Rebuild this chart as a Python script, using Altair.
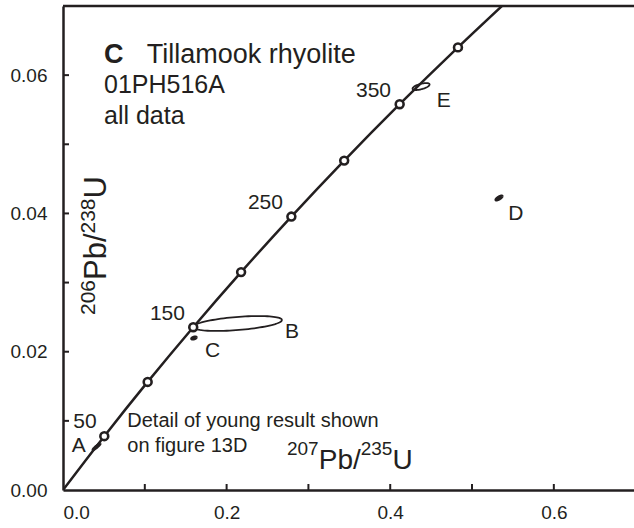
import altair as alt
import pandas as pd
import numpy as np

INK = "#231f20"
FONT = "Liberation Sans"

# Concordia curve: age (Ma), 207Pb/235U, 206Pb/238U
conc_age = [0, 50, 100, 150, 200, 250, 300, 350, 400, 440]
conc_x = [0.0, 0.05048, 0.10350, 0.15920, 0.21771, 0.27917, 0.34373, 0.41155, 0.48281, 0.54239]
conc_y = [0.0, 0.007786, 0.015633, 0.023542, 0.031511, 0.039543, 0.047638, 0.055795, 0.064016, 0.070638]
marker_ages = [50, 100, 150, 200, 250, 300, 350, 400]

# Analyses (error ellipses): centre, half-widths, error correlation
ell_id = ["A", "B", "C", "D", "E"]
ell_cx = [0.0410, 0.2133, 0.1601, 0.5330, 0.4377]
ell_cy = [0.00625, 0.02408, 0.02198, 0.04223, 0.05835]
ell_sx = [0.0045, 0.0544, 0.0030, 0.0040, 0.0104]
ell_sy = [0.00045, 0.00108, 0.00018, 0.00032, 0.00050]
ell_rho = [0.95, 0.47, 0.5, 0.8, 0.6]
small_ids = ["A", "C", "D"]

# Labels
age_text = ["50", "150", "250", "350"]
age_lx = [0.0411, 0.1491, 0.2689, 0.4010]
age_ly = [0.00892, 0.02458, 0.04064, 0.05688]

let_text = ["A", "B", "C", "D", "E"]
let_lx = [0.0106, 0.2714, 0.1736, 0.5444, 0.4568]
let_ly = [0.00554, 0.02194, 0.01928, 0.03905, 0.05543]

note_text = ["Detail of young result shown", "on figure 13D"]
note_lx = [0.0786, 0.0786]
note_ly = [0.00915, 0.00554]

title_bold = ["C"]
title_bx = [0.0501]
title_by = [0.06179]
title_text = ["Tillamook rhyolite"]
title_tx = [0.1023]
title_ty = [0.06179]
sub_text = ["01PH516A", "all data"]
sub_x = [0.0501, 0.0501]
sub_y = [0.05737, 0.05293]

# x-axis title pieces: 207Pb/235U
xt_big = ["Pb/", "U"]
xt_big_x = [0.3126, 0.4027]
xt_big_y = [0.00299, 0.00299]
xt_sup = ["207", "235"]
xt_sup_x = [0.2738, 0.3639]
xt_sup_y = [0.00506, 0.00506]

# y-axis title pieces: 206Pb/238U (rotated)
yt_big = ["Pb/", "U"]
yt_big_x = [0.0526, 0.0526]
yt_big_y = [0.03037, 0.04215]
yt_sup = ["206", "238"]
yt_sup_x = [0.0391, 0.0391]
yt_sup_y = [0.02531, 0.03709]

x_ticks = [0.1, 0.2, 0.3, 0.4, 0.5, 0.6]
y_ticks = [0.01, 0.02, 0.03, 0.04, 0.05, 0.06]

W, H = 571, 484
XDOM = [0, 0.698]
YDOM = [0, 0.07]

xs = alt.Scale(domain=XDOM, nice=False, zero=False)
ys = alt.Scale(domain=YDOM, nice=False, zero=False)

conc = pd.DataFrame({"age": conc_age, "x": conc_x, "y": conc_y})
marks = conc[conc["age"].isin(marker_ages)]

t = np.linspace(0, 2 * np.pi, 91)
rows = []
for lab, cx, cy, sx, sy, r in zip(ell_id, ell_cx, ell_cy, ell_sx, ell_sy, ell_rho):
    for i, tt in enumerate(t):
        rows.append({"id": lab, "o": i,
                     "x": cx + sx * np.cos(tt),
                     "y": cy + sy * (r * np.cos(tt) + np.sqrt(1 - r * r) * np.sin(tt))})
ell = pd.DataFrame(rows)
ell_big = ell[~ell["id"].isin(small_ids)]
ell_small = ell[ell["id"].isin(small_ids)]

xaxis = alt.Axis(values=[0, 0.2, 0.4, 0.6], format=".1f", title=None, ticks=False,
                 grid=False, domainColor=INK, domainWidth=2.5, labelFont=FONT,
                 labelFontSize=19, labelColor=INK, labelPadding=13)
yaxis = alt.Axis(values=[0, 0.02, 0.04, 0.06], format=".2f", title=None, ticks=False,
                 grid=False, domainColor=INK, domainWidth=2.5, labelFont=FONT,
                 labelFontSize=19, labelColor=INK, labelPadding=16)

line = alt.Chart(conc).mark_line(color=INK, strokeWidth=2.5, clip=True,
                                 interpolate="monotone").encode(
    x=alt.X("x:Q", scale=xs, axis=xaxis),
    y=alt.Y("y:Q", scale=ys, axis=yaxis),
    order="age:Q")

ellipses = alt.Chart(ell_big).mark_line(color=INK, strokeWidth=1.8).encode(
    x=alt.X("x:Q", scale=xs), y=alt.Y("y:Q", scale=ys),
    detail="id:N", order="o:Q")
ellipses_small = alt.Chart(ell_small).mark_line(color=INK, strokeWidth=2.6).encode(
    x=alt.X("x:Q", scale=xs), y=alt.Y("y:Q", scale=ys),
    detail="id:N", order="o:Q")

pts = alt.Chart(marks).mark_point(shape="circle", filled=True, fill="white",
                                  stroke=INK, strokeWidth=2.6, size=62, opacity=1).encode(
    x=alt.X("x:Q", scale=xs), y=alt.Y("y:Q", scale=ys))

xt = alt.Chart(pd.DataFrame({"v": x_ticks})).mark_rule(color=INK, strokeWidth=2).encode(
    x=alt.X("v:Q", scale=xs), y=alt.value(H), y2=alt.value(H - 6))
yt = alt.Chart(pd.DataFrame({"v": y_ticks})).mark_rule(color=INK, strokeWidth=2).encode(
    y=alt.Y("v:Q", scale=ys), x=alt.value(0), x2=alt.value(6))
top = alt.Chart(pd.DataFrame({"v": [0]})).mark_rule(color=INK, strokeWidth=2.5).encode(
    x=alt.value(0), x2=alt.value(W), y=alt.value(0))


def text_layer(txt, lx, ly, size, align="left", weight="normal", angle=0):
    df = pd.DataFrame({"t": txt, "x": lx, "y": ly})
    return alt.Chart(df).mark_text(align=align, baseline="alphabetic", font=FONT,
                                   fontSize=size, fontWeight=weight, color=INK,
                                   angle=angle).encode(
        x=alt.X("x:Q", scale=xs), y=alt.Y("y:Q", scale=ys), text="t:N")


texts = [
    text_layer(age_text, age_lx, age_ly, 21, align="right"),
    text_layer(let_text, let_lx, let_ly, 21),
    text_layer(note_text, note_lx, note_ly, 20),
    text_layer(title_bold, title_bx, title_by, 27, weight="bold"),
    text_layer(title_text, title_tx, title_ty, 27),
    text_layer(sub_text, sub_x, sub_y, 25),
    text_layer(xt_big, xt_big_x, xt_big_y, 28),
    text_layer(xt_sup, xt_sup_x, xt_sup_y, 19),
    text_layer(yt_big, yt_big_x, yt_big_y, 31, angle=270),
    text_layer(yt_sup, yt_sup_x, yt_sup_y, 21, angle=270),
]

chart = alt.layer(line, ellipses, ellipses_small, pts, xt, yt, top, *texts).properties(
    width=W, height=H,
    autosize=alt.AutoSizeParams(type="none"),
    padding={"left": 63, "top": 6, "right": 0, "bottom": 38},
).configure_view(stroke=None).configure(background="white")

chart.save("out.html", embed_options={"renderer": "svg", "actions": False})
